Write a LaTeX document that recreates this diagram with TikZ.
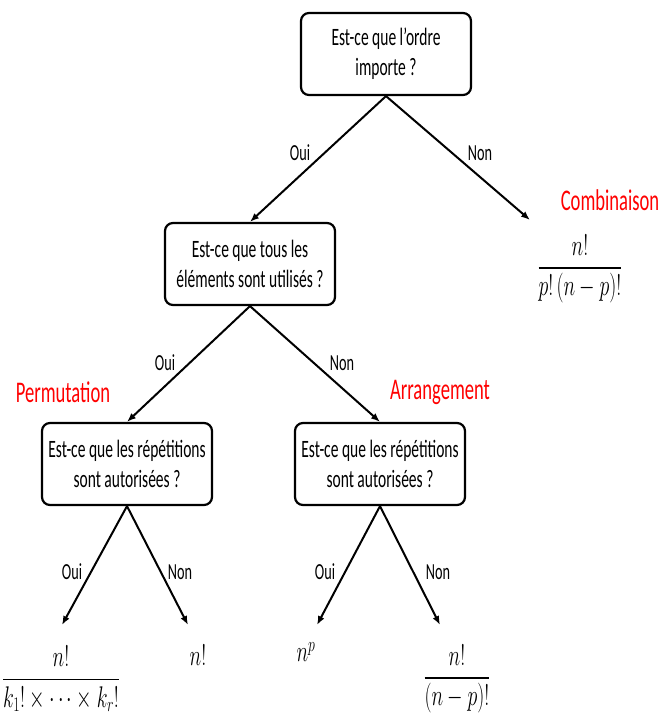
\documentclass[tikz,border=0pt]{standalone}
\usepackage{fontspec}
\setmainfont{Carlito}[FakeStretch=0.62]
\usepackage{amsmath}
\usepackage{tikz}
\usetikzlibrary{positioning, arrows.meta}
\definecolor{methodred}{HTML}{FF0000}
\tikzset{
  every picture/.style={x=1pt, y=-1pt},
}

\begin{document}
\begin{tikzpicture}[
  question/.style={
    draw, line width=2.2pt, rounded corners=8pt,
    minimum width=170pt, minimum height=82pt, inner sep=2pt, align=center,
    font=\fontsize{25}{30}\selectfont
  },
  answer/.style={font=\fontsize{23}{27}\selectfont, inner sep=0pt},
  method/.style={text=methodred, font=\fontsize{30}{36}\selectfont, inner sep=0pt},
  formula/.style={font=\fontsize{25}{30}\selectfont, xscale=0.8, yscale=1.2, inner sep=0pt},
  arrow/.style={-{Latex[length=9pt, width=7pt]}, line width=2pt}
]
  \useasboundingbox (0,0) rectangle (667,718);

  % questions
  \node[question] (ordre) at (386,54) {Est-ce que l'ordre\\importe ?};
  \node[question] (tous) at (250,264) {Est-ce que tous les\\éléments sont utilisés ?};
  \node[question] (repperm) at (127,464) {Est-ce que les répétitions\\sont autorisées ?};
  \node[question] (reparr) at (380,464) {Est-ce que les répétitions\\sont autorisées ?};

  % results
  \node[formula] (comb) at (580,269) {$\dfrac{n!}{p!\,(n-p)!}$};
  \node[formula] (permrep) at (61,679) {$\dfrac{n!}{k_1!\times\cdots\times k_r!}$};
  \node[formula] (perm) at (198,655) {$n!$};
  \node[formula] (arrrep) at (306,652) {$n^p$};
  \node[formula] (arr) at (457,679) {$\dfrac{n!}{(n-p)!}$};

  \node[method] (combname) at (610,200) {Combinaison};
  \node[method] (permname) at (63,392) {Permutation};
  \node[method] (arrname) at (440,392) {Arrangement};

  \coordinate (combtip) at (530,220);
  \coordinate (permreptip) at (62,625);
  \coordinate (permtip) at (188,625);
  \coordinate (arrreptip) at (317,625);
  \coordinate (arrtip) at (440,625);

  % branches
  \draw[arrow] (ordre.south) -- (tous.north);
  \draw[arrow] (ordre.south) -- (combtip);
  \draw[arrow] (tous.south) -- (repperm.north);
  \draw[arrow] (tous.south) -- (reparr.north);
  \draw[arrow] (repperm.south) -- (permreptip);
  \draw[arrow] (repperm.south) -- (permtip);
  \draw[arrow] (reparr.south) -- (arrreptip);
  \draw[arrow] (reparr.south) -- (arrtip);

  \node[answer] (oui1) at (300,153) {Oui};
  \node[answer] (non1) at (480,153) {Non};
  \node[answer] (oui2) at (165,363) {Oui};
  \node[answer] (non2) at (342,363) {Non};
  \node[answer] (oui3) at (72,572) {Oui};
  \node[answer] (non3) at (180,572) {Non};
  \node[answer] (oui4) at (325,572) {Oui};
  \node[answer] (non4) at (438,572) {Non};
\end{tikzpicture}
\end{document}
